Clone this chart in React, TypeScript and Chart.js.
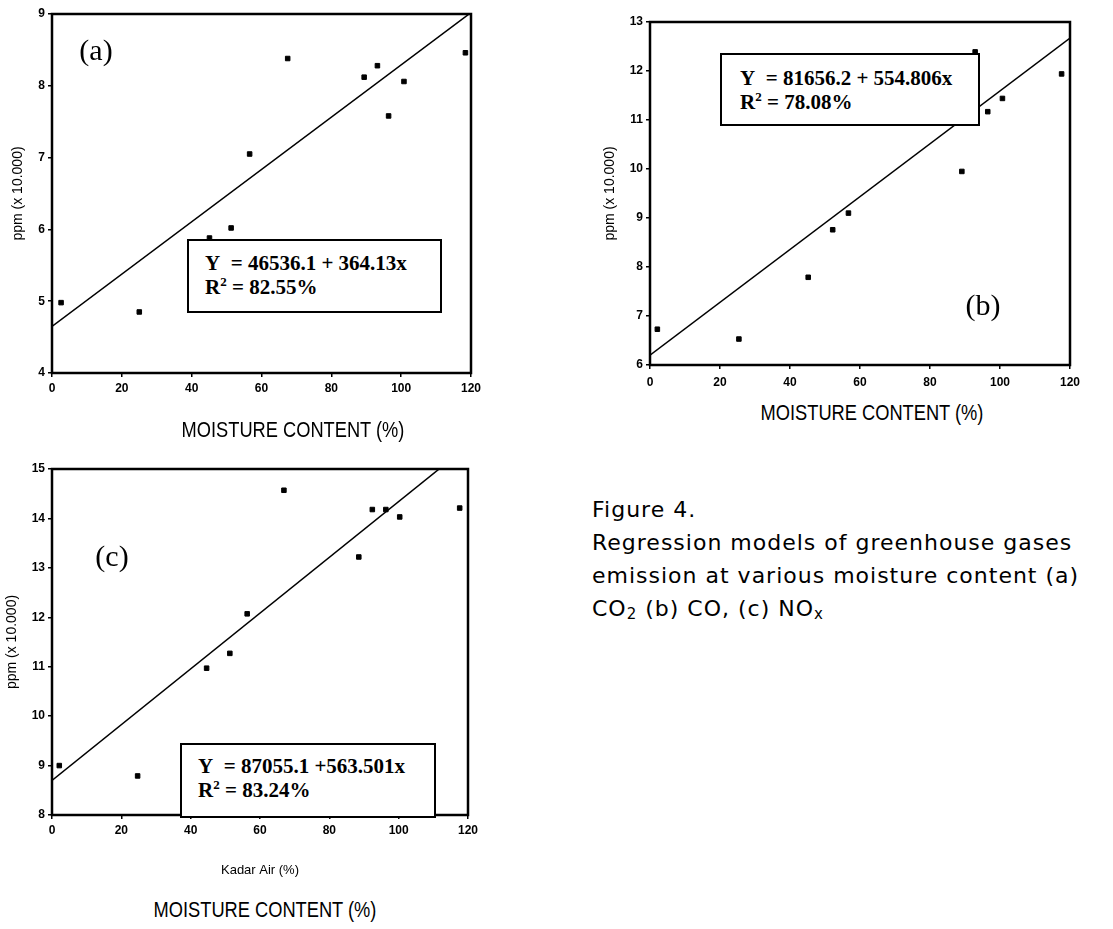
import React, { useEffect, useRef } from "react";
import { Chart, registerables } from "chart.js";

Chart.register(...registerables);

// ---- data (ppm in units of 10,000; moisture content in %) ----
const moistureA = [2.6, 25, 45.1, 51.3, 56.6, 67.5, 89.4, 93.2, 96.4, 100.8, 118.4];
const ppmA = [4.98, 4.85, 5.88, 6.02, 7.05, 8.38, 8.12, 8.28, 7.58, 8.06, 8.46];
const moistureB = [2.1, 25.4, 45.2, 52.2, 56.7, 89.1, 92.9, 96.5, 100.7, 117.6];
const ppmB = [6.73, 6.53, 7.79, 8.76, 9.1, 9.95, 12.39, 11.17, 11.44, 11.94];
const moistureC = [2.1, 24.7, 44.6, 51.3, 56.3, 66.9, 88.5, 92.4, 96.3, 100.3, 117.6];
const ppmC = [9.0, 8.79, 10.97, 11.27, 12.07, 14.57, 13.22, 14.18, 14.18, 14.03, 14.21];
const fitX = [0, 120];
const fitA = [4.65, 9.02];
const fitB = [6.2, 12.67];
const fitC = [8.7, 15.47];
const yRangeA = [4, 9];
const yRangeB = [6, 13];
const yRangeC = [8, 15];
const xRange = [0, 120];

const equationA = ["Y\u00a0\u00a0= 46536.1 + 364.13x", "82.55%"];
const equationB = ["Y\u00a0\u00a0= 81656.2 + 554.806x", "78.08%"];
const equationC = ["Y\u00a0\u00a0= 87055.1 +563.501x", "83.24%"];

const Y_TITLE = "ppm (x 10.000)";
const X_CAPTION = "MOISTURE CONTENT (%)";

const frame = {
  id: "frame",
  afterDatasetsDraw(chart: any) {
    const { ctx, chartArea } = chart;
    ctx.save();
    ctx.strokeStyle = "#000";
    ctx.lineWidth = 2.5;
    ctx.strokeRect(chartArea.left, chartArea.top, chartArea.right - chartArea.left, chartArea.bottom - chartArea.top);
    ctx.restore();
  },
};

type PanelProps = {
  left: number; top: number; width: number; height: number;
  padTop: number; padRight: number; yWidth: number; xHeight: number;
  xs: number[]; ys: number[]; fit: number[]; yRange: number[];
  yTitlePad: number; xTickPad: number; xTitle?: string; xTitlePad?: number;
};

function Panel(p: PanelProps) {
  const ref = useRef<HTMLCanvasElement>(null);
  useEffect(() => {
    if (!ref.current) return;
    const pts = p.xs.map((x, i) => ({ x, y: p.ys[i] }));
    const line = fitX.map((x, i) => ({ x, y: p.fit[i] }));
    const tickFont = { family: "'Liberation Sans', Arial, sans-serif", size: 12, weight: "bold" as const };
    const chart = new Chart(ref.current, {
      type: "scatter",
      data: {
        datasets: [
          {
            type: "line",
            data: line,
            borderColor: "#000",
            borderWidth: 1.5,
            pointRadius: 0,
            showLine: true,
            fill: false,
          } as any,
          {
            data: pts,
            pointStyle: "rect",
            pointRadius: 3.2,
            pointBorderWidth: 1,
            backgroundColor: "#000",
            borderColor: "#000",
          },
        ],
      },
      options: {
        animation: false,
        responsive: false,
        devicePixelRatio: 1,
        layout: { padding: { top: p.padTop, right: p.padRight, left: 0, bottom: 0 } },
        plugins: { legend: { display: false }, tooltip: { enabled: false } },
        scales: {
          x: {
            type: "linear",
            min: xRange[0],
            max: xRange[1],
            border: { display: false },
            grid: { display: true, drawOnChartArea: false, drawTicks: true, tickLength: 4, color: "#000", lineWidth: 1.5 },
            ticks: { stepSize: 20, color: "#000", font: tickFont, padding: p.xTickPad, maxRotation: 0 },
            title: p.xTitle
              ? { display: true, text: p.xTitle, color: "#000", font: { family: "'Liberation Sans', Arial, sans-serif", size: 13 }, padding: { top: 0, bottom: p.xTitlePad ?? 0 } }
              : { display: false },
            afterFit: (s: any) => { s.height = p.xHeight; },
          },
          y: {
            type: "linear",
            min: p.yRange[0],
            max: p.yRange[1],
            border: { display: false },
            grid: { display: true, drawOnChartArea: false, drawTicks: true, tickLength: 4, color: "#000", lineWidth: 1.5 },
            ticks: { stepSize: 1, color: "#000", font: tickFont, padding: 3 },
            title: { display: true, text: Y_TITLE, color: "#000", font: { family: "'Liberation Sans', Arial, sans-serif", size: 14 }, padding: { top: p.yTitlePad, bottom: 0 } },
            afterFit: (s: any) => { s.width = p.yWidth; },
          },
        },
      },
      plugins: [frame],
    });
    return () => chart.destroy();
  }, []);
  return (
    <canvas
      ref={ref}
      width={p.width}
      height={p.height}
      style={{ position: "absolute", left: p.left, top: p.top, width: p.width, height: p.height }}
    />
  );
}

function EqBox(props: { left: number; top: number; width: number; height: number; padTop: number; padLeft: number; lines: string[] }) {
  return (
    <div
      style={{
        position: "absolute",
        left: props.left,
        top: props.top,
        width: props.width,
        height: props.height,
        boxSizing: "border-box",
        border: "2px solid #000",
        background: "#fff",
        paddingTop: props.padTop,
        paddingLeft: props.padLeft,
        fontFamily: "'Liberation Serif', 'Times New Roman', serif",
        fontWeight: "bold",
        fontSize: 21,
        lineHeight: "24px",
        color: "#000",
        whiteSpace: "nowrap",
      }}
    >
      <div>{props.lines[0]}</div>
      <div>
        R<span style={{ fontSize: 13, verticalAlign: "8px", lineHeight: 0 }}>2</span> = {props.lines[1]}
      </div>
    </div>
  );
}

function Label(props: { cx: number; cy: number; text: string; style: React.CSSProperties; sx?: number }) {
  return (
    <div
      style={{
        position: "absolute",
        left: props.cx,
        top: props.cy,
        transform: `translate(-50%, -50%) scaleX(${props.sx ?? 1})`,
        whiteSpace: "nowrap",
        color: "#000",
        lineHeight: 1,
        ...props.style,
      }}
    >
      {props.text}
    </div>
  );
}

const panelLetter: React.CSSProperties = { fontFamily: "'Liberation Serif', 'Times New Roman', serif", fontSize: 30 };
const moistureStyle: React.CSSProperties = { fontFamily: "'Liberation Sans', Arial, sans-serif", fontSize: 22 };

export default function App() {
  return (
    <div style={{ position: "absolute", left: 0, top: 0, width: 1113, height: 929, background: "#fff", overflow: "hidden" }}>
      <Panel left={0} top={0} width={500} height={400} padTop={14} padRight={29} yWidth={52} xHeight={27}
        xs={moistureA} ys={ppmA} fit={fitA} yRange={yRangeA} yTitlePad={10} xTickPad={4} />
      <Panel left={560} top={0} width={553} height={400} padTop={22} padRight={43} yWidth={90} xHeight={35}
        xs={moistureB} ys={ppmB} fit={fitB} yRange={yRangeB} yTitlePad={42} xTickPad={6} />
      <Panel left={0} top={440} width={500} height={440} padTop={29} padRight={32} yWidth={52} xHeight={65}
        xs={moistureC} ys={ppmC} fit={fitC} yRange={yRangeC} yTitlePad={4} xTickPad={4} xTitle="Kadar Air (%)" xTitlePad={2} />

      <EqBox left={187} top={239} width={255} height={74} padTop={10} padLeft={16} lines={equationA} />
      <EqBox left={720} top={53} width={260} height={73} padTop={11} padLeft={18} lines={equationB} />
      <EqBox left={180} top={743} width={256} height={75} padTop={9} padLeft={16} lines={equationC} />

      <Label cx={96} cy={50} text="(a)" style={panelLetter} />
      <Label cx={983} cy={305} text="(b)" style={panelLetter} />
      <Label cx={112} cy={556} text="(c)" style={panelLetter} />

      <Label cx={293} cy={430} text={X_CAPTION} style={moistureStyle} sx={0.83} />
      <Label cx={872} cy={413} text={X_CAPTION} style={moistureStyle} sx={0.83} />
      <Label cx={265} cy={910} text={X_CAPTION} style={moistureStyle} sx={0.83} />

      <div
        style={{
          position: "absolute",
          left: 592,
          top: 493,
          fontFamily: "'DejaVu Sans', sans-serif",
          fontSize: 22,
          letterSpacing: "1px",
          lineHeight: "33px",
          color: "#000",
          whiteSpace: "nowrap",
        }}
      >
        <div>Figure 4.</div>
        <div>Regression models of greenhouse gases</div>
        <div>emission at various moisture content (a)</div>
        <div>
          CO<span style={{ fontSize: 15, verticalAlign: "-3px" }}>2</span> (b) CO, (c) NO<span style={{ fontSize: 15, verticalAlign: "-3px" }}>x</span>
        </div>
      </div>
    </div>
  );
}
